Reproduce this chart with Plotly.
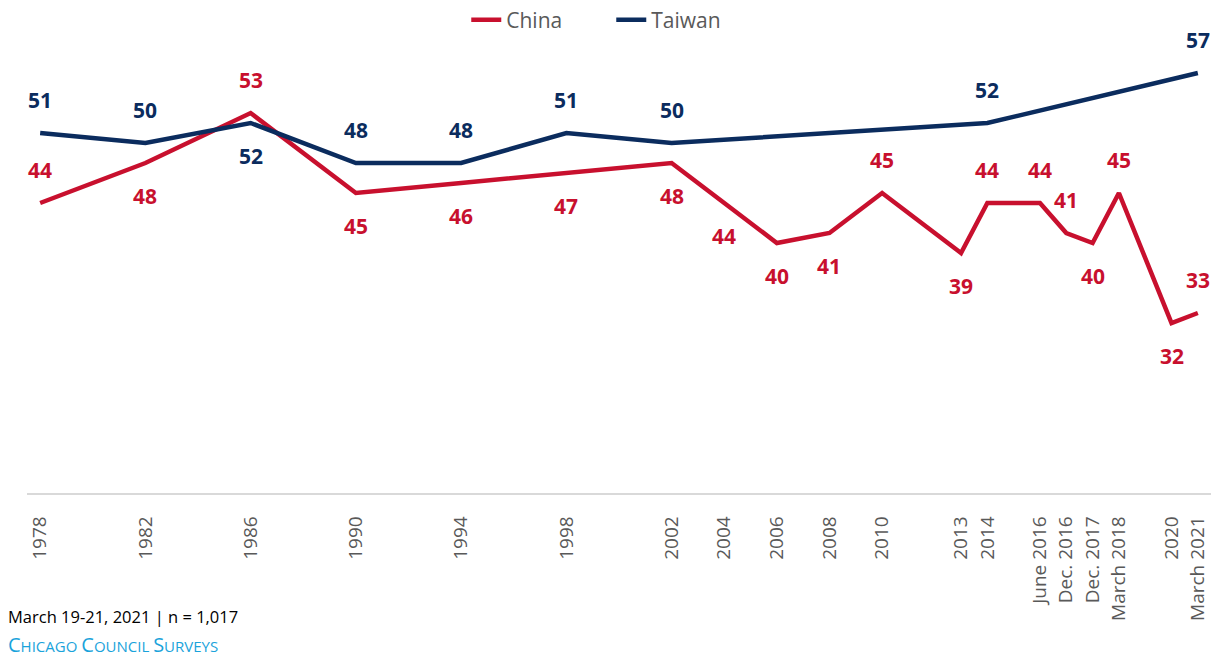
import plotly.graph_objects as go

# survey waves (slot = position on the category axis, gaps kept as in original)
wave_labels = ["1978", "1982", "1986", "1990", "1994", "1998", "2002", "2004", "2006",
               "2008", "2010", "2013", "2014", "June 2016", "Dec. 2016", "Dec. 2017",
               "March 2018", "2020", "March 2021"]
wave_slots = [0, 4, 8, 12, 16, 20, 24, 26, 28, 30, 32, 35, 36, 38, 39, 40, 41, 43, 44]

china = [44, 48, 53, 45, 46, 47, 48, 44, 40, 41, 45, 39, 44, 44, 41, 40, 45, 32, 33]
taiwan = [51, 50, 52, 48, 48, 51, 50, None, None, None, None, None, 52,
          None, None, None, None, None, 57]

# label above (1) or below (-1) the point
china_side = [1, -1, 1, -1, -1, -1, -1, -1, -1, -1, 1, -1, 1, 1, 1, -1, 1, -1, 1]
taiwan_side = [1, 1, -1, 1, 1, 1, 1, 0, 0, 0, 0, 0, 1, 0, 0, 0, 0, 0, 1]

RED = "#C8102E"
NAVY = "#0B2C5E"
GREY = "#595959"
FONT = "Open Sans"

fig = go.Figure()
fig.add_trace(go.Scatter(
    x=wave_slots, y=china, name="China", mode="lines",
    line=dict(color=RED, width=4.5),
))
fig.add_trace(go.Scatter(
    x=wave_slots, y=taiwan, name="Taiwan", mode="lines", connectgaps=True,
    line=dict(color=NAVY, width=4.5),
))

# data labels
for series, sides, color in [(china, china_side, RED), (taiwan, taiwan_side, NAVY)]:
    for x, v, s in zip(wave_slots, series, sides):
        if v is None or s == 0:
            continue
        fig.add_annotation(
            x=x, y=v, text=f"<b>{v}</b>", showarrow=False,
            yshift=33 * s, font=dict(family=FONT, size=21, color=color),
        )

# footer
fig.add_annotation(
    x=0, y=0, xref="paper", yref="paper", xshift=-21, yshift=-110,
    xanchor="left", yanchor="top", showarrow=False,
    text="March 19-21, 2021 | n = 1,017",
    font=dict(family=FONT, size=16.5, color="#000000"),
)
fig.add_annotation(
    x=0, y=0, xref="paper", yref="paper", xshift=-21, yshift=-136,
    xanchor="left", yanchor="top", showarrow=False,
    text=("<span style='font-size:20px'>C</span>HICAGO "
          "<span style='font-size:20px'>C</span>OUNCIL "
          "<span style='font-size:20px'>S</span>URVEYS"),
    font=dict(family=FONT, size=15, color="#1AA3DB"),
)

# page body has an 8px default margin, so the figure is drawn 8px in and down
fig.update_layout(
    width=1217, height=648,
    paper_bgcolor="white", plot_bgcolor="white",
    font=dict(family=FONT, color=GREY),
    margin=dict(l=19, r=14, t=35, b=163, autoexpand=False),
    showlegend=True,
    legend=dict(
        orientation="h", x=0.371, xanchor="left", y=1.051, yanchor="middle",
        font=dict(family=FONT, size=21, color=GREY),
        entrywidth=100, entrywidthmode="pixels",
    ),
    xaxis=dict(
        range=[-0.5, 44.5], automargin=False,
        tickmode="array", tickvals=wave_slots, ticktext=wave_labels,
        tickangle=-90, tickfont=dict(family=FONT, size=19, color=GREY),
        showgrid=False, zeroline=False,
        showline=True, linecolor="#D9D9D9", linewidth=1.5,
        ticks="", ticklabelstandoff=14,
    ),
    yaxis=dict(
        range=[15, 60], visible=False, showgrid=False, zeroline=False,
        automargin=False,
    ),
)

fig.write_html("out.html")
